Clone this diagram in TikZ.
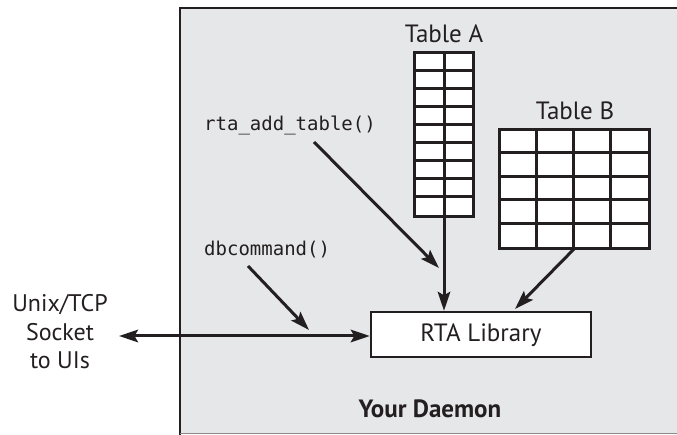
\documentclass[tikz,border=0pt]{standalone}
\usepackage{fontspec}
\setmainfont{PT Sans}
\setmonofont{DejaVu Sans Mono}
\usetikzlibrary{arrows.meta}
\definecolor{bggray}{HTML}{E6E7E8}
\definecolor{ink}{HTML}{231F20}
\definecolor{edge}{HTML}{8A8A8A}
\tikzset{
  tip/.tip={Stealth[length=19pt,width=12.5pt,inset=3.5pt]},
  conn/.style={draw=ink, line width=3pt, -tip},
  lbl/.style={font=\fontsize{25}{29}\selectfont, text=ink, inner sep=0pt},
  codelbl/.style={font=\ttfamily\fontsize{19}{23}\selectfont, text=ink, inner sep=0pt, anchor=west},
  tablebox/.style={draw=ink, fill=white, line width=2pt, inner sep=0pt},
  gridline/.style={draw=ink, line width=3pt},
  libbox/.style={draw=ink, fill=white, line width=2.4pt, minimum width=220pt, minimum height=45pt, inner sep=0pt}
}
\begin{document}
\begin{tikzpicture}[x=1pt,y=-1pt]
\useasboundingbox (0,0) rectangle (677,435);
% daemon box
\fill[bggray] (180,8) rectangle (677,433);
\draw[ink, line width=2.4pt] (180,435) -- (180,8) -- (677,8);
\draw[edge, line width=1.5pt] (180,433.5) -- (677,433.5);
% Table A
\node[tablebox, minimum width=58pt, minimum height=163pt] (tA) at (444,134.5) {};
\foreach \i in {1,...,8} {
  \draw[gridline] ([yshift=-\i*163/9 pt]tA.north west) -- ([yshift=-\i*163/9 pt]tA.north east);
}
\draw[gridline] (tA.north) -- (tA.south);
\draw[ink, line width=2pt] (tA.north west) rectangle (tA.south east);
\node[lbl] (tAl) at (444,34) {Table A};
% Table B
\node[tablebox, minimum width=149pt, minimum height=118pt] (tB) at (574.5,189) {};
\foreach \i in {1,...,4} {
  \draw[gridline] ([yshift=-\i*118/5 pt]tB.north west) -- ([yshift=-\i*118/5 pt]tB.north east);
}
\foreach \j in {1,2,3} {
  \draw[gridline] ([xshift=\j*149/4 pt]tB.north west) -- ([xshift=\j*149/4 pt]tB.south west);
}
\draw[ink, line width=2pt] (tB.north west) rectangle (tB.south east);
\node[lbl] (tBl) at (575,111) {Table B};
% RTA library
\node[libbox] (rta) at (481,334.5) {};
\node[lbl] (rtal) at (481,335) {RTA Library};
% labels
\node[codelbl] (add) at (204,125) {rta\_add\_table()};
\node[codelbl] (dbc) at (204,250) {dbcommand()};
\node[lbl, align=center, font=\fontsize{24}{28.5}\selectfont] (sock) at (60,332) {Unix/TCP\\Socket\\to UIs};
\node[lbl, font=\bfseries\fontsize{25}{29}\selectfont] (dmn) at (430,409) {Your Daemon};
% coordinates
\coordinate (addS) at (314,142);
\coordinate (addE) at (439,268);
\coordinate (dbcS) at (248,266);
\coordinate (dbcE) at (309,330);
\coordinate (tBs) at (575,248);
\coordinate (tBe) at (515,309);
\coordinate (sockE) at (119,336);
% connectors
\draw[conn] (tA.south) -- (tA.south |- rta.north);
\draw[conn] (addS) -- (addE);
\draw[conn] (dbcS) -- (dbcE);
\draw[conn] (tBs) -- (tBe);
\draw[conn, tip-tip] (sockE) -- (rta.west |- sockE);
\end{tikzpicture}
\end{document}
